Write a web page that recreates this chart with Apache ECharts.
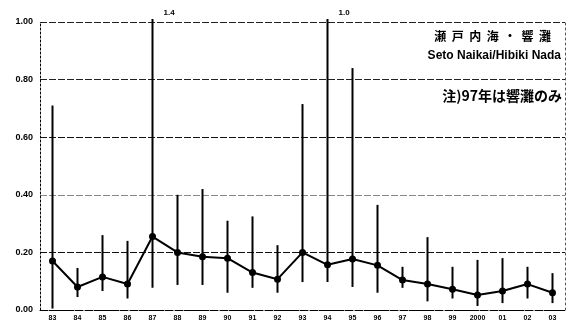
<!DOCTYPE html>
<html>
<head>
<meta charset="utf-8">
<script src="https://cdn.jsdelivr.net/npm/echarts@6/dist/echarts.min.js"></script>
<style>
  html, body { margin: 0; padding: 0; background: #fff; }
  #chart { width: 569px; height: 326px; }
</style>
</head>
<body>
<div id="chart"></div>
<script>
// survey years, mean value and min/max range per year
const years = ['83', '84', '85', '86', '87', '88', '89', '90', '91', '92', '93',
  '94', '95', '96', '97', '98', '99', '2000', '01', '02', '03'];
const means = [0.17, 0.08, 0.115, 0.09, 0.255, 0.20, 0.185, 0.18, 0.13, 0.107, 0.20,
  0.157, 0.177, 0.155, 0.104, 0.09, 0.072, 0.052, 0.066, 0.09, 0.06];
const lows = [0.005, 0.045, 0.066, 0.04, 0.077, 0.087, 0.087, 0.06, 0.077, 0.06, 0.097,
  0.097, 0.08, 0.06, 0.077, 0.03, 0.04, 0.014, 0.024, 0.04, 0.024];
const highs = [0.71, 0.146, 0.26, 0.24, 1.4, 0.40, 0.42, 0.31, 0.325, 0.225, 0.715,
  1.0, 0.84, 0.365, 0.15, 0.253, 0.15, 0.174, 0.18, 0.15, 0.128];
const yTicks = [0, 0.2, 0.4, 0.6, 0.8, 1.0];

const yMax = 1.0;
const font = '"Liberation Sans", "DejaVu Sans", sans-serif';
const cjk = '"Noto Sans CJK JP", sans-serif';

const chart = echarts.init(document.getElementById('chart'));

const rangeData = years.map((y, i) => [i, lows[i], highs[i]]);

chart.setOption({
  animation: false,
  grid: { left: 40, right: 4, top: 22, bottom: 16 },
  xAxis: {
    type: 'category',
    data: years,
    boundaryGap: true,
    axisLine: { lineStyle: { color: '#000', width: 1, type: [3, 2] } },
    axisTick: { show: false },
    axisLabel: { color: '#000', fontSize: 7, fontWeight: 'bold', fontFamily: font, margin: 5 },
    splitLine: { show: false }
  },
  yAxis: [{
    type: 'value',
    min: 0,
    max: yMax,
    interval: 0.2,
    axisLine: { show: true, lineStyle: { color: '#000', width: 1, type: [2, 2] } },
    axisTick: { show: false },
    axisLabel: {
      color: '#000', fontSize: 9, fontWeight: 'bold', fontFamily: font, margin: 7,
      formatter: v => v.toFixed(2)
    },
    splitLine: {
      show: true,
      lineStyle: { color: ['#000', '#111', '#888', '#111', '#222', '#222'], width: 1, type: [7, 2] }
    }
  }, {
    type: 'value',
    position: 'right',
    min: 0,
    max: yMax,
    interval: 0.2,
    axisLine: { show: true, lineStyle: { color: '#555', width: 1, type: [2, 3] } },
    axisTick: { show: false },
    axisLabel: { show: false },
    splitLine: { show: false }
  }],
  series: [{
    type: 'custom',
    data: rangeData,
    z: 3,
    renderItem: (params, api) => {
      const i = api.value(0);
      const lo = api.coord([i, api.value(1)]);
      const hiVal = api.value(2);
      const top = params.coordSys.y;
      const hiY = hiVal >= yMax ? top - 3 : api.coord([i, hiVal])[1];
      const children = [{
        type: 'line',
        shape: { x1: lo[0], y1: lo[1], x2: lo[0], y2: hiY },
        style: { stroke: '#000', lineWidth: 2 }
      }];
      if (hiVal >= yMax) {
        children.push({
          type: 'text',
          style: {
            x: lo[0] + 11, y: top - 9, text: hiVal.toFixed(1),
            fill: '#000', font: 'bold 8px ' + font,
            align: 'left', verticalAlign: 'middle'
          }
        });
      }
      return { type: 'group', children };
    }
  }, {
    type: 'line',
    data: means,
    z: 4,
    symbol: 'circle',
    symbolSize: 7,
    itemStyle: { color: '#000' },
    lineStyle: { color: '#000', width: 2 }
  }],
  graphic: [{
    type: 'text', right: 18, top: 30,
    style: { text: '瀬  戸  内  海  ・  響  灘', fill: '#000', font: 'bold 12px ' + cjk }
  }, {
    type: 'text', right: 8, top: 50,
    style: { text: 'Seto Naikai/Hibiki Nada', fill: '#000', font: 'bold 12px ' + font }
  }, {
    type: 'text', right: 7, top: 89,
    style: { text: '注)97年は響灘のみ', fill: '#000', font: 'bold 14px ' + cjk }
  }]
});
</script>
</body>
</html>
